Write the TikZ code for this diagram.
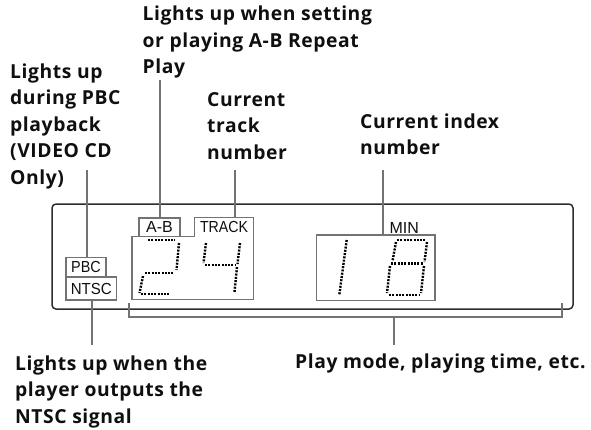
\documentclass[tikz,border=0pt]{standalone}
\usepackage{fontspec}
\setmainfont{Open Sans}
\newfontfamily\calloutfont{Open Sans}[LetterSpace=3]
\newfontfamily\lcdfont{Liberation Sans}
\usepackage{graphicx}
\usetikzlibrary{positioning}
\definecolor{mydark}{RGB}{45,45,45}
\definecolor{mygray}{RGB}{115,115,115}
\definecolor{mytext}{RGB}{15,15,15}
\newcommand{\lcdtxt}[2][0.9]{\scalebox{#1}[1]{#2}}
\tikzset{
  callout/.style={font=\calloutfont\bfseries\fontsize{19.3}{26.5}\selectfont, align=left,
    inner sep=0pt, anchor=base west, text=mytext},
  tag/.style={rectangle, draw=mygray, line width=1.3pt, inner sep=0pt,
    font=\lcdfont\fontsize{16}{16}\selectfont, text=mytext},
  window/.style={draw=mygray, line width=1.3pt},
  leader/.style={draw=mygray, line width=1.3pt},
  seg/.style={line width=2.4pt, dash pattern=on 2pt off 1.3pt, color=black}
}
\begin{document}
\begin{tikzpicture}[x=1pt, y=-1pt,
  display/.style={draw=mydark, line width=1.5pt, rounded corners=4pt}]
  \useasboundingbox (0,0) rectangle (591,429);
  % front panel
  \draw[display] (52,204) rectangle (573,309);
  % indicators
  \node[tag, minimum width=40pt, minimum height=19.5pt] (pbc) at (86,267.2) {\lcdtxt{PBC}};
  \node[tag, minimum width=50.5pt, minimum height=23pt] (ntsc) at (91.3,288.5) {\lcdtxt[0.94]{NTSC}};
  \node[tag, minimum width=41pt, minimum height=18.3pt] (ab) at (159.5,227) {A-B};
  \node[tag, draw=none, minimum width=58pt, minimum height=18.3pt] (track) at (224,227) {\lcdtxt[0.885]{TRACK}};
  \draw[window] (ab.south west) -| (132,299.5) -| (track.north east)
    -- (track.north west) |- (ab.south east);
  \node[tag, minimum width=118.3pt, minimum height=65.7pt] (win) at (375.9,267.9) {};
  \node[tag, draw=none, anchor=base west] (min) at (389,233.5) {MIN};
  % digits 2 4
  \draw[seg] (148,240) -- (175,240);
  \draw[seg] (179,243) -- (176.5,270);
  \draw[seg] (145,273) -- (174,273);
  \draw[seg] (143,276) -- (139.5,293);
  \draw[seg] (141,294) -- (170,294);
  \draw[seg] (206,243) -- (203.5,263);
  \draw[seg] (205,265) -- (236,265);
  \draw[seg] (240,243) -- (237.5,264);
  \draw[seg] (237,267) -- (234.5,292);
  % digits 1 8
  \draw[seg] (346.7,240) -- (339.3,295);
  \draw[seg] (397,240) -- (426,240);
  \draw[seg] (427,242) -- (424.5,262);
  \draw[seg] (391,263.5) -- (423,263.5);
  \draw[seg] (424,266) -- (421,293);
  \draw[seg] (396,242) -- (392.5,261);
  \draw[seg] (390,266) -- (387,293);
  \draw[seg] (389,295) -- (420,295);
  % callouts (anchored on the last line)
  \node[callout] (abLbl) at (142.5,73.7) {Lights up when setting\\or playing A-B Repeat\\Play};
  \node[callout] (pbcLbl) at (10,184.3) {Lights up\\during PBC\\playback\\(VIDEO CD\\Only)};
  \node[callout] (trkLbl) at (207,159) {Current\\track\\number};
  \node[callout] (idxLbl) at (360,154.8) {Current index\\number};
  \node[callout] (ntscLbl) at (15,423) {Lights up when the\\player outputs the\\NTSC signal};
  \node[callout] (modeLbl) at (295,368.3) {Play mode, playing time, etc.};
  % leaders
  \coordinate (pbcTop) at (87,170);
  \coordinate (abTop) at (160,80);
  \coordinate (trkTop) at (235,170);
  \coordinate (idxTop) at (383,170);
  \coordinate (ntscEnd) at (92,345);
  \coordinate (brk) at (394,317);
  \coordinate (modeEnd) at (394,345);
  \draw[leader] (pbcTop) -- (pbcTop |- pbc.north);
  \draw[leader] (abTop) -- (abTop |- ab.north);
  \draw[leader] (trkTop) -- (trkTop |- track.north);
  \draw[leader] (idxTop) -- (idxTop |- win.north);
  \draw[leader] (ntscEnd |- ntsc.south) -- (ntscEnd);
  \draw[leader] (129,303) |- (562,317) -- (562,303);
  \draw[leader] (brk) -- (modeEnd);
\end{tikzpicture}
\end{document}
